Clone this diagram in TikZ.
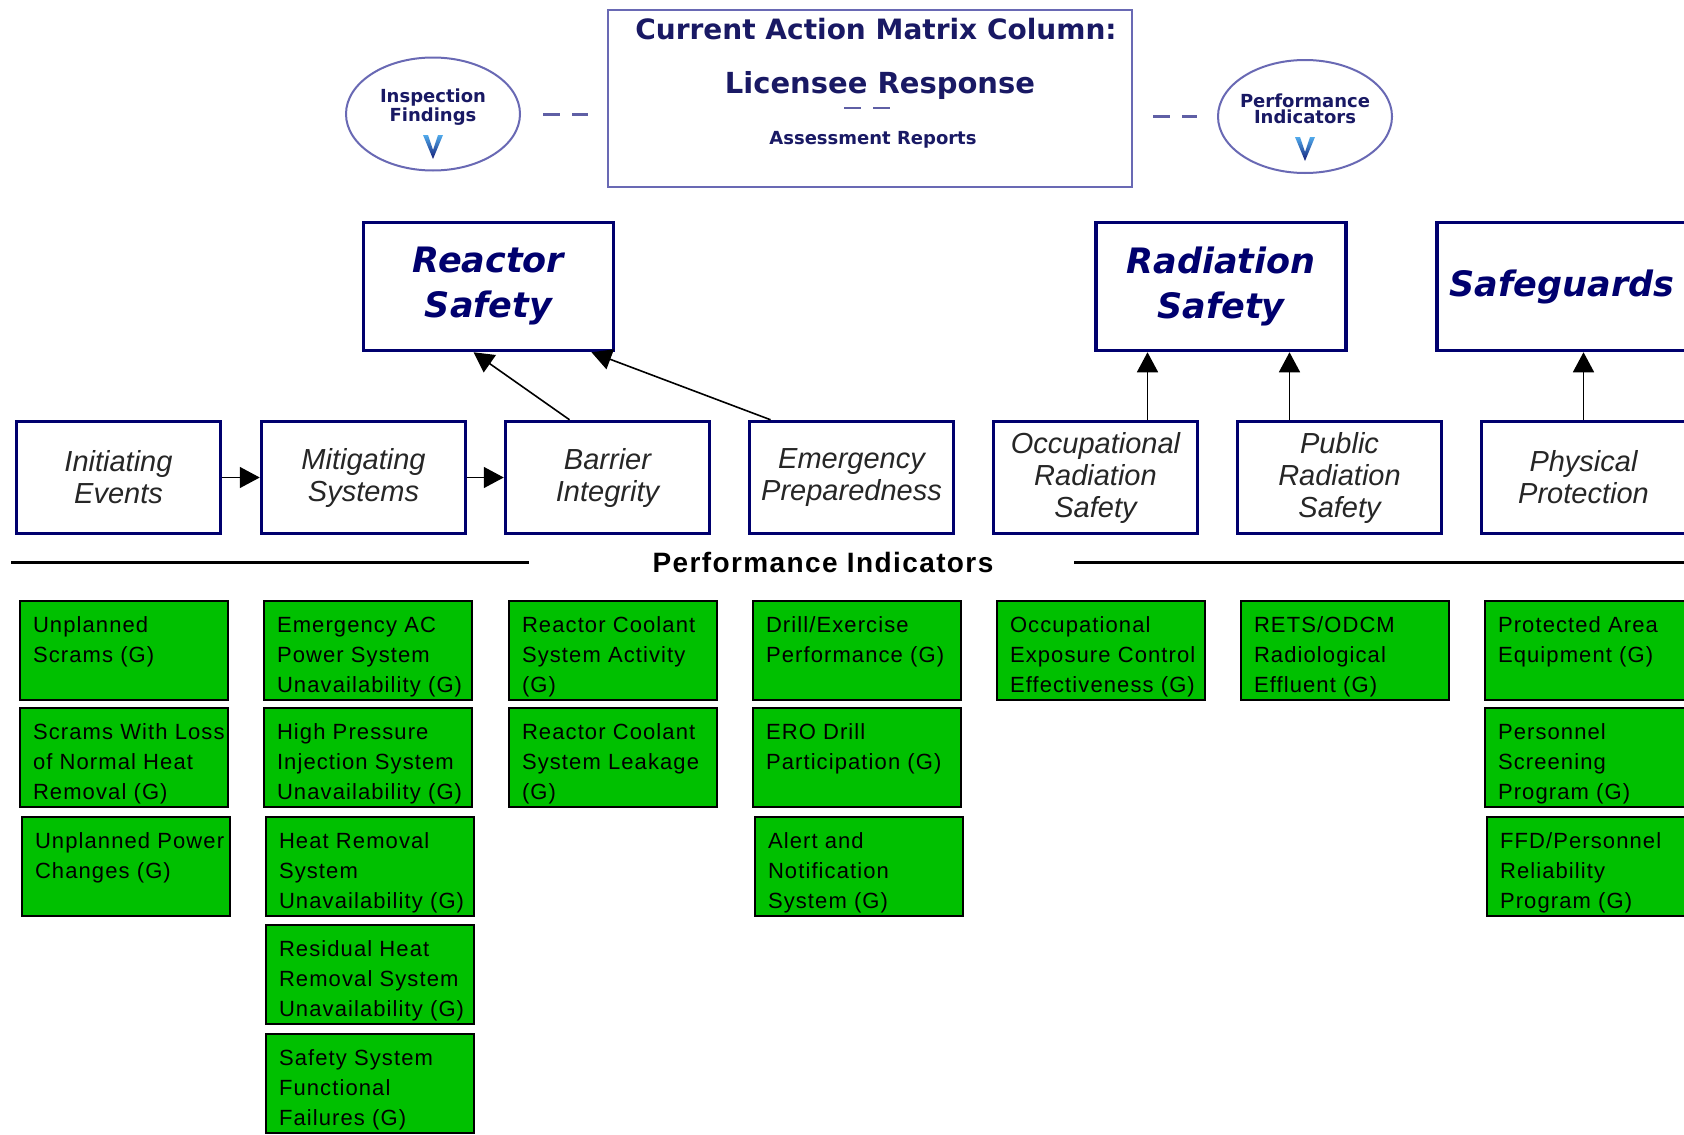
\documentclass[tikz,border=0pt]{standalone}
\usepackage{fontspec}
\setmainfont{Liberation Sans}
\newfontfamily\headfont{DejaVu Sans}
\newfontfamily\indfont[LetterSpace=5]{Liberation Sans}
\usetikzlibrary{shapes.geometric,arrows.meta}

\definecolor{navy}{RGB}{0,0,110}
\definecolor{frameblue}{RGB}{105,105,180}
\definecolor{deepblue}{RGB}{25,25,100}
\definecolor{dashblue}{RGB}{95,95,165}
\definecolor{pigreen}{RGB}{0,192,0}
\definecolor{chevtop}{RGB}{80,170,235}
\definecolor{chevbot}{RGB}{20,30,120}

\newcommand{\pitext}[1]{\parbox[t][87pt][t]{182pt}{\rule{0pt}{25pt}\begin{tabular}[t]{@{}l@{}}#1\end{tabular}}}

\begin{document}
\begin{tikzpicture}[x=1pt,y=-1pt,
  areabox/.style={draw=navy, line width=3.5pt, minimum width=250pt, minimum height=128pt, inner sep=2pt, align=center, text=navy, font=\headfont\bfseries\itshape\fontsize{35}{45}\selectfont},
  cornerbox/.style={draw=navy, line width=3.5pt, minimum width=204pt, minimum height=112pt, inner sep=2pt, align=center, text=black!85, font=\itshape\fontsize{29}{32}\selectfont},
  pibox/.style={draw=black, line width=2pt, fill=pigreen, anchor=north west, inner xsep=13pt, inner ysep=6pt, font=\indfont\fontsize{22}{30}\selectfont},
  source/.style={ellipse, draw=frameblue, line width=2pt, minimum width=174pt, minimum height=113pt},
  sourcetext/.style={align=center, text=deepblue, font=\headfont\bfseries\fontsize{18}{16}\selectfont},
  camtext/.style={text=deepblue, font=\headfont\bfseries},
  conn/.style={line width=1.6pt, -{Triangle[length=20pt,width=21pt]}},
  dashlink/.style={draw=dashblue, line width=3pt, dash pattern=on 17pt off 12pt},
  chevron/.pic={\shade[top color=chevtop, bottom color=chevbot] (-10,-12) -- (-5,-12) -- (0,3) -- (5,-12) -- (10,-12) -- (0,12) -- cycle;}]
\path[use as bounding box, fill=white] (0,0) rectangle (1684,1135);

% Action matrix column and its two sources
\node[draw=frameblue, line width=2pt, minimum width=524pt, minimum height=177pt] (cam) at (870,98.5) {};
\node[camtext, font=\headfont\bfseries\fontsize{28}{30}\selectfont] (camtitle) at (876,29) {Current Action Matrix Column:};
\node[camtext, font=\headfont\bfseries\fontsize{29}{30}\selectfont] (camresp) at (880,85) {Licensee Response};
\draw[dashlink, line width=2.5pt] (844,108) -- (890,108);
\node[camtext, font=\headfont\bfseries\fontsize{18}{20}\selectfont] (camrep) at (873,140) {Assessment Reports};

\node[source] (insp) at (433,114) {};
\node[sourcetext] (insptext) at (433,107) {Inspection\\Findings};
\pic at (433,147) {chevron};
\node[source] (perf) at (1305,116.5) {};
\node[sourcetext] (perftext) at (1305,109) {Performance\\Indicators};
\pic at (1305,149) {chevron};

\draw[dashlink, shorten <=22pt, shorten >=19pt] (insp.east) -- (insp.east -| cam.west);
\draw[dashlink, shorten <=20pt, shorten >=20pt] (perf.west -| cam.east) -- (perf.west);

% Strategic areas
\node[areabox] (reactor) at (488.5,286.5) {Reactor\\Safety};
\node[areabox] (radsafe) at (1221,286.5) {Radiation\\Safety};
\node[areabox] (safeg) at (1562,286.5) {Safeguards};

% Cornerstones
\node[cornerbox] (init) at (118.5,477.5) {Initiating\\Events};
\node[cornerbox] (mitig) at (363.5,477.5) {Mitigating\\Systems};
\node[cornerbox] (barrier) at (607.5,477.5) {Barrier\\Integrity};
\node[cornerbox] (emerg) at (851.5,477.5) {Emergency\\Preparedness};
\node[cornerbox] (occ) at (1095.5,477.5) {Occupational\\Radiation\\Safety};
\node[cornerbox] (public) at (1339.5,477.5) {Public\\Radiation\\Safety};
\node[cornerbox] (phys) at (1583.5,477.5) {Physical\\Protection};

\draw[conn] (init) -- (mitig);
\draw[conn] (mitig) -- (barrier);
\draw[conn] ([xshift=-38pt]barrier.north) -- ([xshift=-15pt]reactor.south);
\draw[conn] ([xshift=-81pt]emerg.north) -- ([xshift=103pt]reactor.south);
\draw[conn] ([xshift=52pt]occ.north) -- ([xshift=52pt]occ.north |- radsafe.south);
\draw[conn] ([xshift=-50pt]public.north) -- ([xshift=-50pt]public.north |- radsafe.south);
\draw[conn] (phys.north) -- (phys.north |- safeg.south);

% Performance indicators heading
\node[font=\indfont\bfseries\fontsize{28}{30}\selectfont] (pilabel) at (823,562) {Performance Indicators};
\draw[line width=3pt] (11,562) -- (529,562);
\draw[line width=3pt] (1074,562) -- (1684,562);

% Indicators, first column
\node[pibox] (pi11) at (19,600) {\pitext{Unplanned\\Scrams (G)}};
\node[pibox] (pi12) at (19,707) {\pitext{Scrams With Loss\\of Normal Heat\\Removal (G)}};
\node[pibox] (pi13) at (21,816) {\pitext{Unplanned Power\\Changes (G)}};

% second column
\node[pibox] (pi21) at (263,600) {\pitext{Emergency AC\\Power System\\Unavailability (G)}};
\node[pibox] (pi22) at (263,707) {\pitext{High Pressure\\Injection System\\Unavailability (G)}};
\node[pibox] (pi23) at (265,816) {\pitext{Heat Removal\\System\\Unavailability (G)}};
\node[pibox] (pi24) at (265,924) {\pitext{Residual Heat\\Removal System\\Unavailability (G)}};
\node[pibox] (pi25) at (265,1033) {\pitext{Safety System\\Functional\\Failures (G)}};

% third column
\node[pibox] (pi31) at (508,600) {\pitext{Reactor Coolant\\System Activity\\(G)}};
\node[pibox] (pi32) at (508,707) {\pitext{Reactor Coolant\\System Leakage\\(G)}};

% fourth column
\node[pibox] (pi41) at (752,600) {\pitext{Drill/Exercise\\Performance (G)}};
\node[pibox] (pi42) at (752,707) {\pitext{ERO Drill\\Participation (G)}};
\node[pibox] (pi43) at (754,816) {\pitext{Alert and\\Notification\\System (G)}};

% radiation and safeguards columns
\node[pibox] (pi51) at (996,600) {\pitext{Occupational\\Exposure Control\\Effectiveness (G)}};
\node[pibox] (pi61) at (1240,600) {\pitext{RETS/ODCM\\Radiological\\Effluent (G)}};
\node[pibox] (pi71) at (1484,600) {\pitext{Protected Area\\Equipment (G)}};
\node[pibox] (pi72) at (1484,707) {\pitext{Personnel\\Screening\\Program (G)}};
\node[pibox] (pi73) at (1486,816) {\pitext{FFD/Personnel\\Reliability\\Program (G)}};
\end{tikzpicture}
\end{document}
